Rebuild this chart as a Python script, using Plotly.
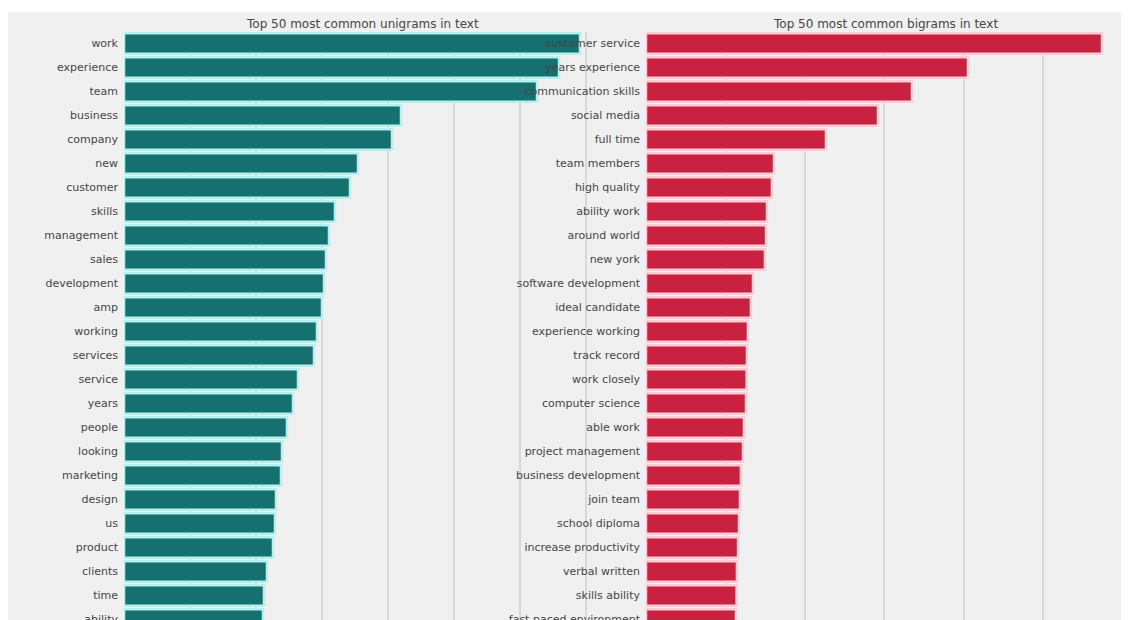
import plotly.graph_objects as go

# ---------------- data ----------------
unigram_words = ["work", "experience", "team", "business", "company", "new", "customer",
                 "skills", "management", "sales", "development", "amp", "working", "services",
                 "service", "years", "people", "looking", "marketing", "design", "us",
                 "product", "clients", "time", "ability"]
unigram_counts = [34545, 32955, 31288, 20985, 20303, 17727, 17121, 15985, 15530, 15303,
                  15152, 15000, 14621, 14394, 13182, 12803, 12348, 11970, 11894, 11515,
                  11439, 11288, 10833, 10606, 10530]

bigram_words = ["customer service", "years experience", "communication skills", "social media",
                "full time", "team members", "high quality", "ability work", "around world",
                "new york", "software development", "ideal candidate", "experience working",
                "track record", "work closely", "computer science", "able work",
                "project management", "business development", "join team", "school diploma",
                "increase productivity", "verbal written", "skills ability",
                "fast paced environment"]
bigram_counts = [2868, 2025, 1673, 1459, 1132, 805, 792, 761, 755, 748, 673, 660, 641, 635,
                 633, 629, 616, 610, 597, 591, 585, 579, 572, 570, 566]

titles = ["Top 50 most common unigrams in text", "Top 50 most common bigrams in text"]

# ---------------- figure ----------------
W, H = 1129, 620
OFF = 8  # page body margin
BG = "#f0f0f0"
TEAL = "#15706f"
TEAL_EDGE = "#b6f1ef"
RED = "#c9213f"
RED_EDGE = "#f9cdd6"
TXT = "#454545"
GRID = "#d8d8d8"
FONT = "DejaVu Sans"

fig = go.Figure()
fig.add_trace(go.Bar(x=unigram_counts, y=unigram_words, orientation="h",
                     marker=dict(color=TEAL, line=dict(color=TEAL_EDGE, width=2.5)),
                     xaxis="x", yaxis="y", hoverinfo="x+y", showlegend=False))
fig.add_trace(go.Bar(x=bigram_counts, y=bigram_words, orientation="h",
                     marker=dict(color=RED, line=dict(color=RED_EDGE, width=2.5)),
                     xaxis="x2", yaxis="y2", hoverinfo="x+y", showlegend=False))

row0_center = 43.5 - OFF
row_h = 24.0
top_px = row0_center - row_h / 2
y_bottom_val = (H - row0_center) / row_h
y_dom_top = (H - top_px) / H

left_dom = [(124 - OFF) / W, (600 - OFF) / W]
right_dom = [(646 - OFF) / W, (1124 - OFF) / W]

def xax(dom, rng, dtick):
    return dict(domain=dom, range=rng, dtick=dtick, tick0=0, showticklabels=False,
                showgrid=True, gridcolor=GRID, gridwidth=1.5, zeroline=False,
                showline=False, ticks="", fixedrange=True)

def yax(anchor, cats):
    return dict(domain=[0, y_dom_top], anchor=anchor, type="category",
                categoryorder="array", categoryarray=cats,
                range=[y_bottom_val, -0.5], showgrid=False, zeroline=False,
                showline=False, ticks="", ticklabelstandoff=5,
                tickfont=dict(family=FONT, size=11, color=TXT), fixedrange=True)

fig.update_layout(
    width=W, height=H,
    margin=dict(l=0, r=0, t=0, b=0),
    paper_bgcolor="white",
    plot_bgcolor="rgba(0,0,0,0)",
    bargap=0.15,
    xaxis=xax(left_dom, [0, max(unigram_counts) * 476 / 456], 5000) | dict(anchor="y"),
    yaxis=yax("x", unigram_words),
    xaxis2=xax(right_dom, [0, max(bigram_counts) * 478 / 456], 500) | dict(anchor="y2"),
    yaxis2=yax("x2", bigram_words),
    shapes=[dict(type="rect", xref="paper", yref="paper", x0=0, x1=(1122 - OFF) / W,
                 y0=0, y1=(H - (12 - OFF)) / H, fillcolor=BG, line=dict(width=0),
                 layer="below")],
    annotations=[
        dict(text=titles[0], xref="paper", yref="paper", x=(362 - OFF) / W,
             y=(H - (24 - OFF)) / H, showarrow=False, xanchor="center", yanchor="middle",
             font=dict(family=FONT, size=12, color=TXT)),
        dict(text=titles[1], xref="paper", yref="paper", x=(885 - OFF) / W,
             y=(H - (24 - OFF)) / H, showarrow=False, xanchor="center", yanchor="middle",
             font=dict(family=FONT, size=12, color=TXT)),
    ],
)

fig.write_html("out.html")
